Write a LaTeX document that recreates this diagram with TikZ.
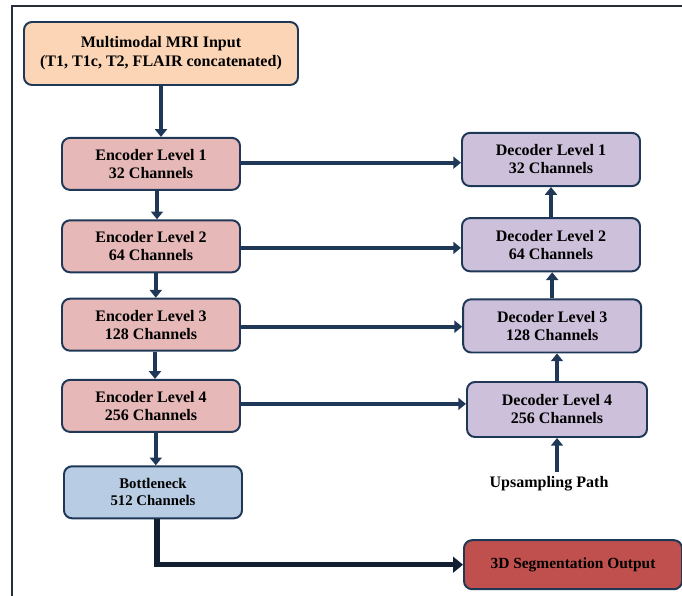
\documentclass[tikz,border=0pt]{standalone}
\usepackage{fontspec}
\setmainfont{Liberation Serif}
\usetikzlibrary{arrows.meta}
\definecolor{navy}{RGB}{31,56,88}
\definecolor{framegray}{RGB}{38,46,56}
\definecolor{inputfill}{RGB}{251,213,181}
\definecolor{encfill}{RGB}{230,184,183}
\definecolor{decfill}{RGB}{204,192,218}
\definecolor{neckfill}{RGB}{184,204,228}
\definecolor{outfill}{RGB}{192,80,77}
\begin{document}
\begin{tikzpicture}[node distance=2cm,
    box/.style={draw=navy, line width=1.4pt, rounded corners=0.2cm, align=center,
      font=\fontsize{11.4}{12.8}\selectfont\bfseries, minimum width=4.45cm, minimum height=1.3cm},
    enc/.style={box, fill=encfill},
    dec/.style={box, fill=decfill, minimum height=1.33cm},
    arr/.style={draw=navy, line width=2.8pt, -{Triangle[length=5.5pt,width=8.5pt]}},
    outarr/.style={draw=navy!55!black, line width=3.8pt, -{Triangle[length=7pt,width=11pt]}}]
    \useasboundingbox (-4.025,1.3375) rectangle (13.025,-13.5625);
    % Frame
    \draw[line width=1.4pt, framegray] (-3.725,-13.5625) -- (-3.725,1.1875) -- (13.025,1.1875);
    % Input
    \node[box, fill=inputfill, minimum width=6.85cm, minimum height=1.575cm,
      font=\fontsize{11.4}{13.5}\selectfont\bfseries] (input) {Multimodal MRI Input\\(T1, T1c, T2, FLAIR concatenated)};
    % Encoder
    \node[enc, below of=input, yshift=-0.76cm, xshift=-0.25cm] (enc1) {Encoder Level 1\\32 Channels};
    \node[enc, below of=enc1, yshift=-0.06cm] (enc2) {Encoder Level 2\\64 Channels};
    \node[enc, below of=enc2, yshift=0.04cm] (enc3) {Encoder Level 3\\128 Channels};
    \node[enc, below of=enc3, yshift=-0.03cm] (enc4) {Encoder Level 4\\256 Channels};
    \node[box, fill=neckfill, below of=enc4, yshift=-0.16cm, xshift=0.05cm,
      font=\fontsize{10.5}{12}\selectfont\bfseries] (bneck) {Bottleneck\\512 Channels};
    % Decoder
    \node[dec, right of=enc1, xshift=8cm, yshift=0.11cm] (dec1) {Decoder Level 1\\32 Channels};
    \node[dec, right of=enc2, xshift=8cm, yshift=0.04cm] (dec2) {Decoder Level 2\\64 Channels};
    \node[dec, right of=enc3, xshift=8.03cm, yshift=-0.03cm] (dec3) {Decoder Level 3\\128 Channels};
    \node[dec, right of=enc4, xshift=8.15cm, yshift=-0.09cm, minimum width=4.5cm, minimum height=1.375cm] (dec4) {Decoder Level 4\\256 Channels};
    \node[below of=dec4, yshift=0.14cm, xshift=-0.2cm, font=\fontsize{11.4}{12.8}\selectfont\bfseries] (up) {Upsampling Path};
    % Output
    \node[box, fill=outfill, right of=bneck, xshift=8.5cm, yshift=-1.81cm, minimum width=5.45cm,
      minimum height=1.225cm, font=\fontsize{11}{12.8}\selectfont\bfseries] (output) {3D Segmentation Output};
    % Arrows
    \draw[arr] (input.south) -- (input.south |- enc1.north);
    \draw[arr] ([xshift=0.15cm]enc1.south) -- ([xshift=0.15cm]enc1.south |- enc2.north);
    \draw[arr] ([xshift=0.12cm]enc2.south) -- ([xshift=0.12cm]enc2.south |- enc3.north);
    \draw[arr] ([xshift=0.1cm]enc3.south) -- ([xshift=0.1cm]enc3.south |- enc4.north);
    \draw[arr] ([xshift=0.12cm]enc4.south) -- ([xshift=0.12cm]enc4.south |- bneck.north);
    \draw[arr] ([yshift=0.03cm]enc1.east) -- ([yshift=0.03cm]enc1.east -| dec1.west);
    \draw[arr] ([yshift=-0.04cm]enc2.east) -- ([yshift=-0.04cm]enc2.east -| dec2.west);
    \draw[arr] ([yshift=-0.05cm]enc3.east) -- ([yshift=-0.05cm]enc3.east -| dec3.west);
    \draw[arr] ([yshift=0.05cm]enc4.east) -- ([yshift=0.05cm]enc4.east -| dec4.west);
    \draw[arr] (dec4.north) -- (dec4.north |- dec3.south);
    \draw[arr] (dec3.north) -- (dec3.north |- dec2.south);
    \draw[arr] (dec2.north) -- (dec2.north |- dec1.south);
    \draw[arr] (up.north -| dec4.south) -- (dec4.south);
    \draw[outarr] ([xshift=0.1cm]bneck.south) |- (output.west);
\end{tikzpicture}
\end{document}
